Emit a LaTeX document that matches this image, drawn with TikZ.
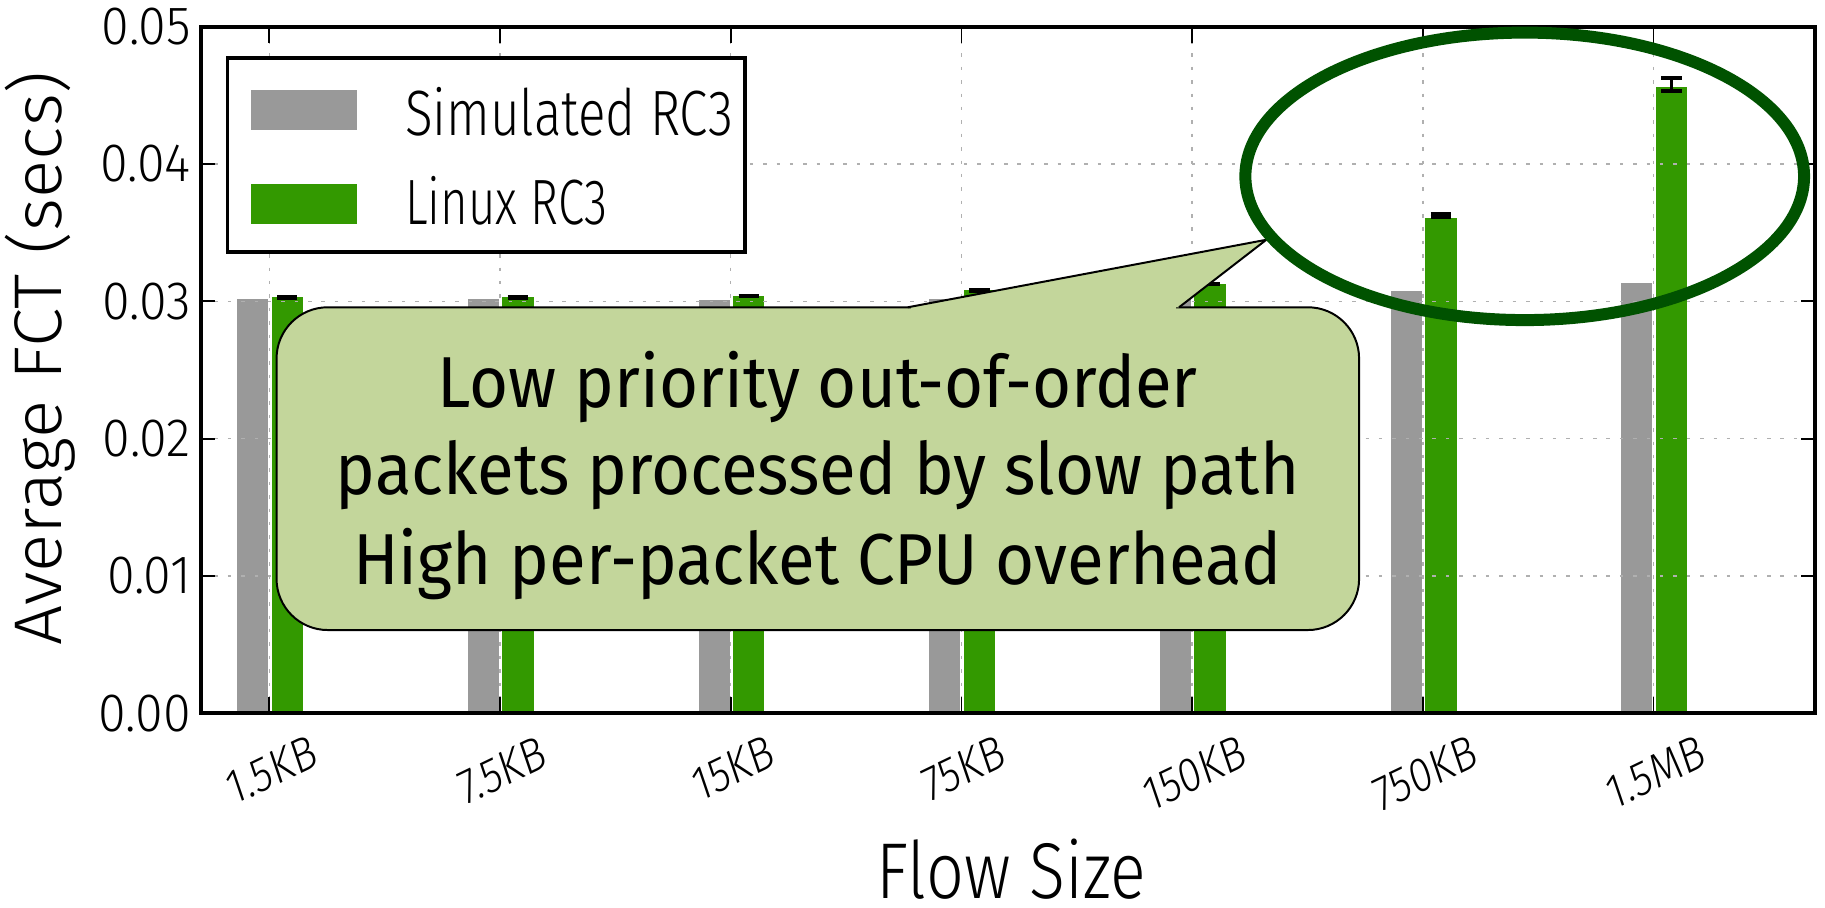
\documentclass[tikz,border=0pt]{standalone}
\usepackage{fontspec}
\usepackage{graphicx}
\newfontfamily\plotfont{Fira Sans Light}
\newfontfamily\notefont{Fira Sans}
\definecolor{simgray}{RGB}{153,153,153}
\definecolor{linuxgreen}{RGB}{51,153,0}
\definecolor{gridgray}{RGB}{176,176,176}
\definecolor{notefill}{RGB}{195,214,155}
\definecolor{ringgreen}{RGB}{0,82,0}
% horizontally squeezed plot lettering: #1 = x scale, #2 = size, #3 = text
\newcommand\plottext[3]{\scalebox{#1}[1]{\fontsize{#2}{#2}\plotfont #3}}
\newcommand\notetext[1]{\scalebox{0.93}[1]{\fontsize{62}{62}\notefont #1}}

\begin{document}
\begin{tikzpicture}[x=1pt, y=-1pt,
  gridline/.style={gridgray, line width=1.3pt, dash pattern=on 3pt off 8.5pt},
  frame/.style={line width=3.4pt, line join=miter},
  tickmark/.style={line width=1.5pt},
  errcap/.style={line width=3.4pt},
  errstem/.style={line width=2.7pt},
  lbl/.style={inner sep=0pt, outer sep=0pt},
]
\useasboundingbox[fill=white] (0,0) rectangle (1568,780);

% axes box: x from 172.7 to 1559.5, y from 22.9 (0.05) to 612.9 (0.00)
\def\xl{172.7}
\def\xr{1559.5}
\def\yt{22.9}
\def\yb{612.9}

% bars: simulated (gray) and Linux (green)
\foreach \i/\s/\g in {0/0.03013/0.0303, 1/0.03013/0.0303, 2/0.0301/0.0304,
                      3/0.0302/0.0308, 4/0.0302/0.03125, 5/0.03073/0.0361,
                      6/0.03131/0.0456} {
  \pgfmathsetmacro\c{231.4+198.2*\i}
  \fill[simgray] ({\c-27.5},\yb) rectangle ({\c-1},{\yb-11800*\s});
  \fill[linuxgreen] ({\c+2},\yb) rectangle ({\c+29},{\yb-11800*\g});
}

% dotted grid
\foreach \i in {0,...,6} {
  \pgfmathsetmacro\c{231.4+198.2*\i}
  \draw[gridline] (\c,\yt) -- (\c,\yb);
}
\foreach \v in {1,...,4} {
  \draw[gridline] (\xl,{\yb-118*\v}) -- (\xr,{\yb-118*\v});
}

% error bars on the Linux bars
\foreach \i/\m/\e in {0/0.03028/0.00001, 1/0.03028/0.00001, 2/0.03038/0.00001,
                      3/0.03079/0.00001, 4/0.03125/0.00001, 5/0.03622/0.00011,
                      6/0.04577/0.00049} {
  \pgfmathsetmacro\c{231.4+198.2*\i+15.5}
  \pgfmathsetmacro\ya{\yb-11800*(\m+\e)}
  \pgfmathsetmacro\yc{\yb-11800*(\m-\e)}
  \draw[errstem] (\c,\ya) -- (\c,\yc);
  \draw[errcap] ({\c-8.7},\ya) -- ({\c+8.7},\ya);
  \draw[errcap] ({\c-8.7},\yc) -- ({\c+8.7},\yc);
}

% ticks
\foreach \i in {0,...,6} {
  \pgfmathsetmacro\c{231.4+198.2*\i}
  \draw[tickmark] (\c,\yb) -- (\c,{\yb-14});
  \draw[tickmark] (\c,\yt) -- (\c,{\yt+14});
}
\foreach \v in {0,...,5} {
  \draw[tickmark] (\xl,{\yb-118*\v}) -- ({\xl+12},{\yb-118*\v});
  \draw[tickmark] (\xr,{\yb-118*\v}) -- ({\xr-12},{\yb-118*\v});
}
\draw[frame] (\xl,\yt) rectangle (\xr,\yb);

% tick labels
\foreach \v/\t in {0/0.00,1/0.01,2/0.02,3/0.03,4/0.04,5/0.05}
  \node[lbl, anchor=east] (ytick\v) at (164,{\yb-118*\v}) {\plottext{0.93}{46.4}{\t}};
% slanted category labels: rotated, then squeezed like the rest of the lettering
\foreach \i/\t/\h in {0/1.5KB/661.5, 1/7.5KB/662, 2/15KB/660, 3/75KB/660,
                      4/150KB/664.5, 5/750KB/664.5, 6/1.5MB/663.5} {
  \pgfmathsetmacro\c{233.5+198.2*\i}
  \begin{scope}[shift={(\c,\h)}, xscale=0.84, rotate=22]
    \node[lbl, transform shape] (xtick\i) at (0,0) {\fontsize{42}{42}\plotfont \t};
  \end{scope}
}

% axis titles
\node[lbl] (ylabel) at (53,308)
  {\scalebox{0.95}[1]{\rotatebox{90}{\fontsize{61}{61}\plotfont\raisebox{0pt}[0pt][0pt]{Average FCT (secs)}}}};
\node[lbl, anchor=base] (xlabel) at (869,772) {\plottext{0.84}{68}{Flow Size}};

% legend
\draw[line width=3pt, fill=white] (195.5,50) rectangle (640,216.5);
\fill[simgray] (216,77) rectangle (307,112);
\fill[linuxgreen] (216,158) rectangle (307,192.5);
\node[lbl, anchor=base west] (legsim) at (348,116) {\plottext{0.80}{55}{Simulated RC3}};
\node[lbl, anchor=base west] (leglin) at (348,193) {\plottext{0.74}{55}{Linux RC3}};

% callout
\node[draw, fill=notefill, line width=1.7pt, rounded corners=44pt,
      minimum width=930.1pt, minimum height=277.3pt, inner sep=0pt] (note)
      at (702.65,402.65) {};
\coordinate (tip) at (1088,206);
\fill[notefill] (780,264) -- (tip) -- (1013,264) -- cycle;
\fill[notefill] (783,263) rectangle (1010,266);
\draw[line width=1.7pt, line join=miter] (780,264) -- (tip) -- (1013,264);
\node[lbl, anchor=base] (line1) at (702.5,350) {\notetext{Low priority out-of-order}};
\node[lbl, anchor=base] (line2) at (702.5,425) {\notetext{packets processed by slow path}};
\node[lbl, anchor=base] (line3) at (702.5,502) {\notetext{High per-packet CPU overhead}};

% highlight ring
\draw[ringgreen, line width=10.3pt] (1310,151.5) ellipse [x radius=240pt, y radius=123.5pt];
\end{tikzpicture}
\end{document}
